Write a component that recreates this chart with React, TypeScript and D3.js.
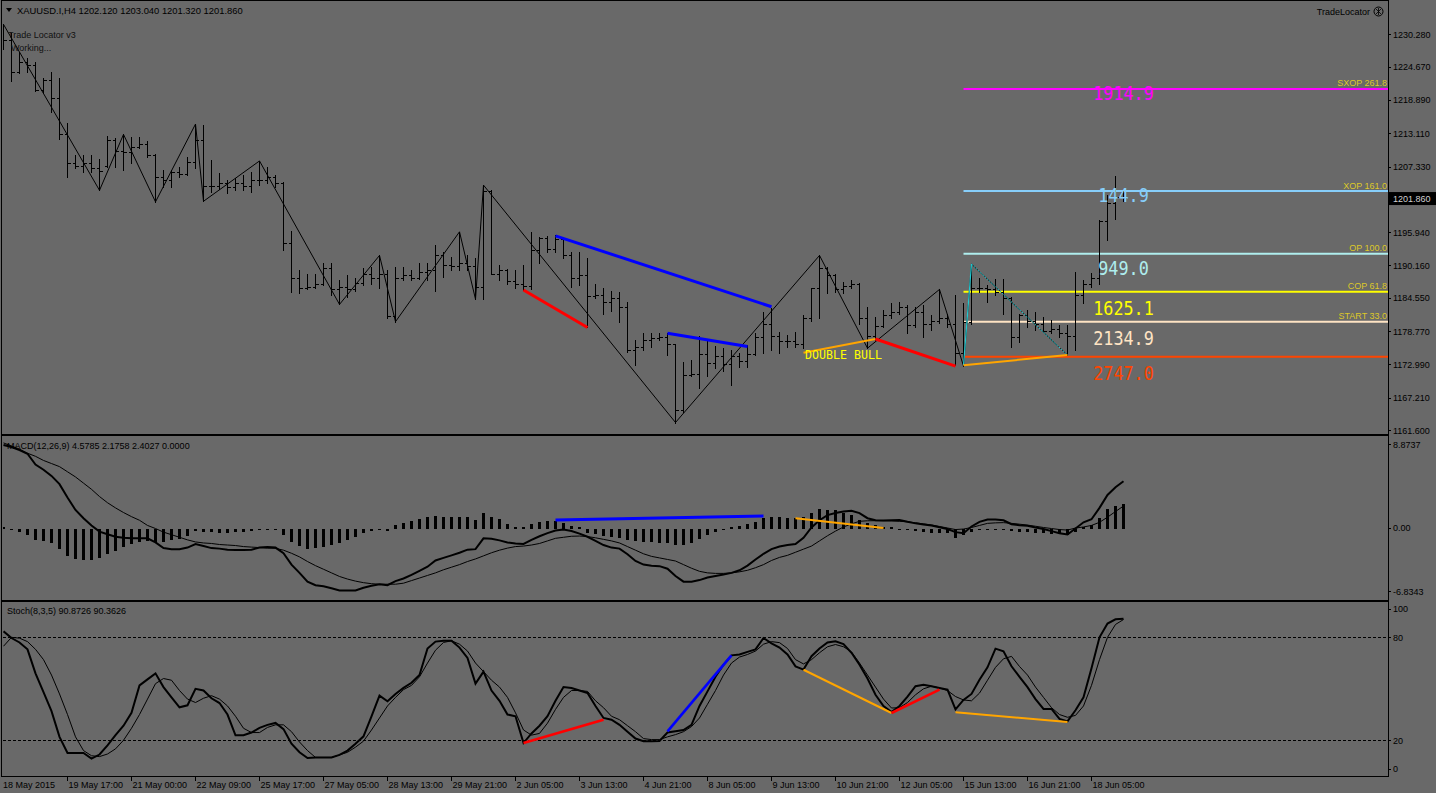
import React from 'react';
import * as d3 from 'd3';

// ---------- DATA ----------
const opens = [1231.0,1229.3,1223.7,1225.5,1224.9,1220.6,1222.3,1219.3,1213.0,1208.0,1207.5,1208.0,1207.0,1207.5,1212.0,1210.0,1209.8,1210.8,1211.2,1209.3,1205.5,1205.0,1206.3,1206.0,1208.2,1212.0,1204.0,1204.0,1204.5,1203.8,1204.5,1204.0,1205.0,1205.0,1205.5,1204.5,1194.0,1188.0,1186.2,1186.5,1187.0,1189.8,1186.0,1186.4,1186.0,1187.2,1188.6,1188.0,1188.6,1181.3,1188.0,1188.5,1188.0,1189.0,1189.3,1191.9,1190.2,1190.0,1190.6,1190.0,1186.5,1203.0,1188.7,1189.3,1187.5,1187.0,1186.6,1192.8,1195.0,1193.0,1194.7,1192.0,1188.0,1188.5,1184.8,1185.0,1183.8,1184.5,1183.0,1175.5,1176.0,1177.3,1177.5,1177.8,1176.5,1165.0,1171.2,1171.4,1174.8,1173.2,1174.5,1173.0,1174.5,1173.5,1174.8,1177.7,1180.0,1178.0,1177.0,1177.0,1176.5,1181.0,1186.2,1189.7,1188.5,1186.0,1186.6,1187.0,1181.0,1178.0,1179.6,1181.5,1182.0,1183.0,1179.8,1182.0,1180.0,1180.5,1181.0,1180.0,1175.0,1180.3,1186.3,1186.3,1186.0,1185.5,1184.5,1177.7,1181.5,1180.5,1180.0,1178.8,1179.2,1178.5,1178.0,1185.0,1187.0,1188.0,1197.8,1201.0,1202.12];
const highs = [1232.0,1230.5,1227.2,1226.2,1225.5,1222.7,1223.7,1222.7,1214.9,1209.3,1209.3,1209.3,1208.6,1212.6,1212.3,1212.9,1212.4,1212.4,1211.7,1209.5,1206.7,1206.7,1207.2,1209.0,1214.7,1214.5,1208.4,1206.2,1205.0,1205.3,1205.9,1206.4,1208.3,1207.2,1205.9,1204.7,1196.1,1189.4,1188.7,1188.7,1190.6,1190.6,1187.7,1188.5,1187.9,1189.7,1189.9,1191.9,1189.3,1189.9,1189.9,1189.3,1190.6,1190.6,1193.7,1192.5,1191.6,1196.0,1191.9,1191.4,1204.1,1203.2,1190.2,1189.5,1189.3,1190.2,1196.0,1195.1,1195.2,1195.4,1194.9,1192.5,1192.5,1191.4,1187.0,1186.2,1185.8,1185.5,1183.8,1177.2,1178.4,1178.4,1178.4,1178.4,1176.6,1173.4,1173.8,1177.9,1177.1,1176.2,1175.8,1175.5,1175.0,1176.3,1178.4,1182.0,1182.8,1178.6,1178.1,1178.6,1181.5,1186.3,1191.9,1189.9,1188.7,1187.3,1187.7,1187.1,1182.9,1181.2,1182.4,1183.6,1183.8,1183.3,1182.9,1183.3,1181.5,1186.0,1181.8,1185.0,1183.6,1190.4,1188.0,1186.8,1187.8,1187.8,1184.6,1181.8,1182.4,1182.0,1181.2,1180.7,1179.8,1179.8,1189.0,1187.6,1188.8,1198.0,1202.4,1205.6,1203.04];
const lows = [1227.7,1222.2,1223.5,1223.7,1220.4,1220.1,1216.8,1212.1,1205.5,1207.0,1206.4,1206.4,1203.2,1207.3,1207.3,1206.7,1208.0,1210.6,1209.0,1201.2,1203.8,1203.8,1205.5,1205.9,1207.0,1201.3,1202.9,1203.5,1202.7,1203.3,1203.3,1202.9,1204.1,1204.5,1203.8,1192.8,1185.6,1185.4,1186.0,1186.3,1186.8,1185.0,1183.4,1184.7,1185.8,1186.8,1187.0,1186.3,1181.0,1180.4,1187.6,1187.6,1187.8,1187.6,1185.7,1188.2,1189.4,1189.4,1189.4,1184.3,1184.3,1188.6,1187.6,1187.0,1186.2,1185.9,1186.0,1190.6,1192.5,1192.5,1191.4,1186.4,1186.8,1179.5,1184.5,1181.8,1182.2,1180.3,1175.1,1172.9,1175.5,1176.0,1177.2,1174.6,1162.9,1164.8,1171.0,1168.9,1170.9,1172.4,1171.9,1169.4,1172.6,1172.6,1174.6,1175.0,1175.5,1175.0,1176.0,1176.0,1175.8,1180.6,1181.1,1185.4,1185.6,1185.4,1186.3,1180.0,1175.8,1177.2,1179.4,1181.1,1181.8,1178.4,1179.5,1177.8,1179.0,1180.2,1179.5,1172.9,1172.7,1180.0,1185.5,1183.8,1185.0,1181.8,1176.0,1176.9,1179.5,1178.9,1178.6,1178.4,1177.7,1174.6,1175.5,1183.6,1186.4,1187.0,1194.6,1198.2,1201.32];
const closes = [1229.3,1223.7,1225.5,1224.9,1220.6,1222.3,1219.3,1213.0,1208.0,1207.5,1208.0,1207.0,1206.6,1212.0,1210.0,1209.8,1210.8,1211.2,1209.3,1205.5,1205.0,1206.3,1206.0,1208.2,1212.0,1204.0,1204.0,1204.5,1203.8,1204.5,1204.0,1205.0,1205.0,1205.5,1204.5,1194.0,1188.0,1186.2,1186.5,1187.0,1189.8,1186.0,1186.4,1186.0,1187.2,1188.6,1188.0,1188.6,1181.3,1188.0,1188.5,1188.0,1189.0,1189.3,1191.9,1190.2,1190.0,1190.6,1190.0,1186.5,1203.0,1188.7,1189.3,1187.5,1187.0,1186.6,1192.8,1195.0,1193.0,1194.7,1192.0,1188.0,1188.5,1184.8,1185.0,1183.8,1184.5,1183.0,1175.5,1176.0,1177.3,1177.5,1177.8,1176.5,1165.0,1171.2,1171.4,1174.8,1173.2,1174.5,1173.0,1174.5,1173.5,1174.8,1177.7,1180.0,1178.0,1177.0,1177.0,1176.5,1181.0,1186.2,1189.7,1188.5,1186.0,1186.6,1187.0,1181.0,1178.0,1179.6,1181.5,1182.0,1183.0,1179.8,1182.0,1180.0,1180.5,1181.0,1180.0,1175.0,1180.3,1186.3,1186.3,1186.0,1185.5,1184.5,1177.7,1181.5,1180.5,1180.0,1178.8,1179.2,1178.5,1178.0,1185.0,1187.0,1188.0,1197.8,1201.0,1202.1,1201.86];

// zigzag vertices [bar index, price]
const zigzag = [[0,1232.0],[12,1203.2],[15,1212.9],[19,1201.2],[24,1214.7],[25,1201.3],[32,1208.3],[42,1183.4],[47,1191.9],[49,1180.4],[57,1196.0],[59,1184.3],[60,1204.1],[84,1162.9],[102,1191.9],[108,1175.8],[117,1186.0],[120,1172.7],[121,1190.4],[133,1174.6]];

// pattern segments on price panel [i1, p1, i2, p2]
const priceSegments = [[65,1185.9,73,1179.4],[69,1195.3,96,1183.0],[83,1178.4,93,1176.1],[100,1175.0,109,1177.4],[109,1177.4,119,1172.7],[120,1172.85,133,1174.6]];
const priceSegmentKinds = ['red','blue','blue','orange','red','orange'];
const cyanLeg = [[120,1172.85],[121,1190.4]];
const cyanDotted = [[121,1190.4],[133,1174.6]];
const patternLabel = 'DOUBLE BULL';
const patternLabelAt = [100.2, 1174.0];

// projection levels
const fibStartBar = 120;
const fibNames = ['SXOP 261.8','XOP 161.0','OP 100.0','COP 61.8','START 33.0',''];
const fibPrices = [1220.79,1203.08,1192.2,1185.6,1180.4,1174.32];
const fibValues = ['1914.9','144.9','949.0','1625.1','2134.9','2747.0'];
const fibValuePrices = [1218.88,1201.23,1188.5,1181.56,1176.35,1170.28];

const priceTicks = [1230.28,1224.67,1218.89,1213.11,1207.33,1195.94,1190.16,1184.55,1178.77,1172.99,1167.21,1161.6];
const bidPrice = 1201.86;

const macdMain = [8.1,7.9,7.6,7.25,6.2,5.7,5.1,4.3,3.0,1.8,1.0,0.3,-0.3,-0.55,-0.8,-0.9,-0.95,-0.95,-0.95,-1.35,-1.9,-2.0,-2.0,-1.85,-1.5,-1.7,-1.9,-1.95,-2.05,-2.08,-2.08,-2.05,-1.85,-1.8,-1.85,-2.4,-3.5,-4.3,-5.15,-5.5,-5.6,-5.8,-6.0,-6.0,-6.0,-5.75,-5.55,-5.4,-5.5,-5.1,-4.85,-4.5,-4.1,-3.7,-3.1,-2.85,-2.6,-2.35,-2.05,-2.0,-0.95,-1.0,-1.15,-1.35,-1.45,-1.5,-1.1,-0.75,-0.45,-0.2,-0.1,-0.25,-0.5,-0.8,-1.2,-1.6,-1.85,-1.95,-2.5,-3.15,-3.5,-3.6,-3.65,-3.9,-4.6,-5.15,-5.15,-5.0,-4.75,-4.6,-4.45,-4.3,-4.05,-3.6,-3.0,-2.45,-2.0,-1.75,-1.6,-1.5,-0.9,0.1,0.8,1.3,1.5,1.65,1.72,1.5,1.0,0.8,0.78,0.8,0.82,0.65,0.5,0.4,0.3,0.12,-0.05,-0.35,-0.45,0.2,0.65,0.88,0.88,0.8,0.42,0.32,0.27,0.1,-0.05,-0.25,-0.45,-0.58,0.0,0.6,0.9,2.0,3.25,4.0,4.58];
const macdSignal = [8.3,8.0,7.7,7.3,7.0,6.6,6.3,6.0,5.5,5.0,4.4,3.8,3.1,2.5,2.0,1.55,1.15,0.8,0.3,0.0,-0.35,-0.6,-0.85,-1.1,-1.3,-1.4,-1.45,-1.55,-1.6,-1.65,-1.75,-1.8,-1.85,-1.9,-1.92,-2.1,-2.4,-2.75,-3.2,-3.6,-3.95,-4.3,-4.65,-4.9,-5.1,-5.25,-5.35,-5.4,-5.4,-5.4,-5.3,-5.05,-4.8,-4.55,-4.3,-4.0,-3.75,-3.5,-3.2,-2.95,-2.65,-2.35,-2.1,-1.9,-1.75,-1.7,-1.6,-1.45,-1.2,-0.95,-0.85,-0.75,-0.73,-0.78,-0.9,-1.05,-1.2,-1.4,-1.75,-2.1,-2.45,-2.7,-2.85,-3.0,-3.15,-3.5,-3.85,-4.15,-4.3,-4.35,-4.35,-4.3,-4.2,-4.05,-3.8,-3.5,-3.1,-2.8,-2.6,-2.3,-2.0,-1.7,-1.2,-0.7,-0.25,0.15,0.45,0.7,0.75,0.76,0.76,0.74,0.7,0.65,0.55,0.45,0.35,0.2,0.05,-0.1,-0.05,0.1,0.3,0.5,0.55,0.57,0.5,0.42,0.33,0.22,0.1,0.0,-0.1,-0.15,0.05,0.15,0.3,0.6,1.1,1.65,2.18];
const macdHist = [0.05,-0.1,-0.3,-0.65,-1.07,-1.2,-1.45,-2.0,-2.7,-3.0,-3.1,-3.05,-2.9,-2.5,-2.15,-1.8,-1.5,-1.3,-1.2,-1.3,-1.3,-1.1,-0.97,-0.75,-0.2,-0.3,-0.35,-0.4,-0.4,-0.35,-0.3,-0.25,-0.15,-0.1,-0.05,-0.65,-1.3,-1.7,-1.95,-1.85,-1.8,-1.6,-1.45,-1.1,-0.8,-0.4,-0.2,-0.1,-0.2,0.3,0.5,0.75,0.97,1.07,1.2,1.15,1.15,1.13,1.07,0.8,1.55,1.15,0.9,0.4,0.15,0.15,0.4,0.6,0.7,0.75,0.5,0.25,0.1,-0.4,-0.55,-0.7,-0.85,-0.95,-1.1,-1.2,-1.3,-1.35,-1.4,-1.45,-1.55,-1.55,-1.4,-1.0,-0.6,-0.3,-0.1,0.05,0.2,0.4,0.65,1.0,1.1,1.1,1.05,1.0,1.1,1.5,1.85,1.8,1.75,1.55,1.3,0.8,0.5,0.3,0.15,0.05,-0.05,-0.15,-0.25,-0.3,-0.4,-0.4,-0.45,-0.9,-0.6,-0.3,-0.15,-0.05,-0.05,-0.1,-0.2,-0.3,-0.35,-0.4,-0.45,-0.5,-0.55,-0.6,-0.3,0.0,0.3,1.0,1.85,2.2,2.4];
const macdSegments = [[69,0.82,95,1.21],[99,1.0,110,0.05]];
const macdSegmentKinds = ['blue','orange'];
const macdTicks = [8.8737,0,-6.8343];
const macdTickLabels = ['8.8737','0.00','-6.8343'];

const stochK = [83.5,79.6,77,73,59,48,37,22,12.6,12.6,12.6,9.3,11.7,17,23,28.5,36,52,55.5,59,51,45,39.2,40.4,50,49,44.5,41.7,35,22.9,22.9,24.5,27.2,29,30.1,26.5,18,13,9.7,10,10,10,11.5,14,18,22.3,34,46,42.7,47,50.5,53.5,58,73.5,77.5,78,78,74,68,53,60,49,43,35,34,18.4,24,28.5,34,43,51,50.5,49,47.6,40,33,32,29,25,21,19.5,19.4,19.6,24.5,25.2,26,29,40,48.5,57,64,69.5,70,71.5,73,79.6,76.5,74,70,63.1,61.2,69,73.5,77,77.7,76,71,64,56,46.5,40,36.5,40,45.5,51.5,52.4,51.5,50.5,49.5,38,43.5,47,55.3,62.5,73.4,71.8,63.1,57,51,44,38.3,38.3,32.5,31,37.5,45,62,80,88,90.5,90.87];
const stochD = [74.8,80,79.5,77.5,73,67,58,47,35,22,14,11,10.5,12,15,20,27,35,44,53,56,55,49,44,42,44.5,46,44,40,34,27,24.5,24.5,27.5,29,29,25,19,14,10,10,10,11.5,13,16,19.5,26,33,40,45,49.5,52,57,65,72.5,77,78,76,72,65,60,55,51,45,36,26,23,24,30,38,45,49,49,48.5,43,39,34,32,28.5,25,21,20.4,20.4,22,23.3,25,28,33,41,49,58,65,68.5,70,72,76,77.5,76.9,73.5,67,64.5,67,71,74.5,75.8,74.5,71.5,65,58,51,44,38.8,39,42,46.5,50,51.5,50.5,49,45.5,43.5,43,47.5,55,62.5,67.5,68.9,63,58,51,45,39,35,33.4,34.5,40,52,67,80,87.5,90.36];
const stochSegments = [[65,18.4,75,32],[83,25.2,91,69.5],[100,61.1,111,35.9],[111,35.9,117,49.5],[119,36.3,133,30.6]];
const stochSegmentKinds = ['red','blue','orange','red','orange'];
const stochLevels = [80,20];
const stochTickVals = [100,80,20,0];

const timeLabels = ['18 May 2015','19 May 17:00','21 May 00:00','22 May 09:00','25 May 17:00','27 May 05:00','28 May 13:00','29 May 21:00','2 Jun 05:00','3 Jun 13:00','4 Jun 21:00','8 Jun 05:00','9 Jun 13:00','10 Jun 21:00','12 Jun 05:00','15 Jun 13:00','16 Jun 21:00','18 Jun 05:00'];
const timeLabelStep = 8;

const headerText = 'XAUUSD.I,H4  1202.120 1203.040 1201.320 1201.860';
const macdTitle = 'MACD(12,26,9) 4.5785 2.1758 2.4027 0.0000';
const stochTitle = 'Stoch(8,3,5) 90.8726 90.3626';

// ---------- STYLE ----------
const BG = '#696969';
const FONT = '"Liberation Sans", Arial, sans-serif';
const MONO = '"DejaVu Sans Mono", monospace';
const kindColor: Record<string, string> = { red: '#ff0000', blue: '#0000ff', orange: '#ffa500' };
const fibColors = ['#ff00ff', '#87cefa', '#afeeee', '#ffff00', '#ffe4c4', '#ff4500'];
const PLOT_R = 1388;

export default function App() {
  const n = closes.length;
  const x = d3.scaleLinear().domain([0, n - 1]).range([3.5, 3.5 + 8 * (n - 1)]);
  const yP = d3.scaleLinear().domain([1161.6, 1230.28]).range([430, 34.3]);
  const yM = d3.scaleLinear().domain([-6.8343, 8.8737]).range([599, 437]);
  const yS = d3.scaleLinear().domain([0, 100]).range([774.6, 603]);
  const r = (v: number) => Math.round(v) + 0.5;

  const zz = d3.line<number[]>().x(d => x(d[0])).y(d => yP(d[1]))(zigzag) || '';
  const macdLine = d3.line<number>().x((_, i) => x(i)).y(d => yM(d));
  const stochLine = d3.line<number>().x((_, i) => x(i)).y(d => yS(d));
  const cyanSolid = d3.line<number[]>().x(d => x(d[0])).y(d => yP(d[1]))(cyanLeg) || '';
  const cyanDot = d3.line<number[]>().x(d => x(d[0])).y(d => yP(d[1]))(cyanDotted) || '';

  return (
    <div style={{ position: 'fixed', left: 0, top: 0, width: 1436, height: 793, background: BG }}>
      <svg width={1436} height={793} style={{ display: 'block' }} fontFamily={FONT}>
        <defs>
          <clipPath id="cMain"><rect x={3} y={2} width={PLOT_R - 3} height={432} /></clipPath>
          <clipPath id="cMacd"><rect x={3} y={437} width={PLOT_R - 3} height={162} /></clipPath>
          <clipPath id="cStoch"><rect x={3} y={602} width={PLOT_R - 3} height={173} /></clipPath>
        </defs>
        <rect x={0} y={0} width={1436} height={793} fill={BG} />

        {/* panel frames */}
        <g fill="none" stroke="#000" strokeWidth={1} shapeRendering="crispEdges">
          <rect x={1.5} y={0.5} width={PLOT_R - 1.5} height={433.5} />
          <rect x={1.5} y={435.5} width={PLOT_R - 1.5} height={164.5} />
          <rect x={1.5} y={601.5} width={PLOT_R - 1.5} height={174.5} />
        </g>

        {/* ===== MAIN PANEL ===== */}
        <g clipPath="url(#cMain)">
          {/* fib lines */}
          {fibPrices.map((p, k) => (
            <line key={'fl' + k} x1={x(fibStartBar)} x2={PLOT_R} y1={yP(p)} y2={yP(p)} stroke={fibColors[k]} strokeWidth={2} />
          ))}
          {/* bars */}
          <g stroke="#000" strokeWidth={1} shapeRendering="crispEdges">
            {closes.map((c, i) => {
              const cx = x(i);
              return (
                <g key={'b' + i}>
                  <line x1={cx} x2={cx} y1={Math.round(yP(highs[i]))} y2={Math.round(yP(lows[i])) + 1} />
                  <line x1={cx - 3} x2={cx} y1={r(yP(opens[i]))} y2={r(yP(opens[i]))} />
                  <line x1={cx} x2={cx + 3.5} y1={r(yP(c))} y2={r(yP(c))} />
                </g>
              );
            })}
          </g>
          <path d={zz} fill="none" stroke="#000" strokeWidth={1} />
          <path d={cyanSolid} fill="none" stroke="#20c8d0" strokeWidth={1.2} />
          <path d={cyanDot} fill="none" stroke="#20c8d0" strokeWidth={1} strokeDasharray="2 1" />
          {priceSegments.map((s, k) => (
            <line key={'ps' + k} x1={x(s[0])} y1={yP(s[1])} x2={x(s[2])} y2={yP(s[3])}
              stroke={kindColor[priceSegmentKinds[k]]} strokeWidth={kindColor[priceSegmentKinds[k]] === '#0000ff' ? 3 : (priceSegmentKinds[k] === 'red' ? 3 : 2)} />
          ))}
          <text x={x(patternLabelAt[0])} y={yP(patternLabelAt[1])} fill="#ffff00" fontFamily={MONO} fontSize={11.6}>{patternLabel}</text>
          {fibValues.map((t, k) => (
            <g key={'fv' + k} transform={`translate(${x(fibStartBar) + 160},${yP(fibValuePrices[k])}) scale(1,1.2)`}>
              <text x={0} y={0} textAnchor="middle" fill={fibColors[k]} fontFamily={MONO} fontSize={16.8}>{t}</text>
            </g>
          ))}
          {fibNames.map((t, k) => t ? (
            <text key={'fn' + k} x={PLOT_R - 1} y={yP(fibPrices[k]) - 2.5} textAnchor="end" fill="#dcc828" fontSize={9}>{t}</text>
          ) : null)}
        </g>

        {/* header texts */}
        <path d="M6,8 L12,8 L9,12 Z" fill="#000" />
        <text x={17} y={14} fontSize={9.4} fill="#000">{headerText}</text>
        <text x={8} y={38} fontSize={9} fill="#111">Trade Locator v3</text>
        <text x={11} y={51} fontSize={9} fill="#111">Working...</text>
        <text x={1370} y={15} fontSize={9} fill="#000" textAnchor="end">TradeLocator</text>
        <circle cx={1378.5} cy={11.5} r={4.5} fill="none" stroke="#000" strokeWidth={1} />
        <path d="M1376,9 L1381,14 M1381,9 L1376,14 M1378.5,8 L1378.5,15" stroke="#000" strokeWidth={0.8} />

        {/* main right axis */}
        <g fontSize={9} fill="#000">
          {priceTicks.map((p, k) => (
            <g key={'pt' + k}>
              <line x1={PLOT_R} x2={PLOT_R + 3} y1={r(yP(p))} y2={r(yP(p))} stroke="#000" />
              <text x={PLOT_R + 5} y={yP(p) + 3.5}>{p.toFixed(3)}</text>
            </g>
          ))}
        </g>
        <rect x={PLOT_R + 1} y={yP(bidPrice) - 6} width={1436 - PLOT_R - 1} height={13} fill="#000" />
        <text x={PLOT_R + 5} y={yP(bidPrice) + 4} fontSize={9} fill="#d0d0d0">{bidPrice.toFixed(3)}</text>

        {/* ===== MACD PANEL ===== */}
        <g clipPath="url(#cMacd)">
          <g fill="#000" shapeRendering="crispEdges">
            {macdHist.map((v, i) => {
              const y0 = yM(0), y1 = yM(v);
              const top = Math.min(y0, y1), h = Math.max(1.5, Math.abs(y1 - y0));
              return <rect key={'h' + i} x={x(i) - 1.5} y={v >= 0 ? y0 - h : y0} width={3} height={h} />;
            })}
          </g>
          <path d={macdLine(macdSignal) || ''} fill="none" stroke="#000" strokeWidth={1} />
          <path d={macdLine(macdMain) || ''} fill="none" stroke="#000" strokeWidth={2} />
          {macdSegments.map((s, k) => (
            <line key={'ms' + k} x1={x(s[0])} y1={yM(s[1])} x2={x(s[2])} y2={yM(s[3])}
              stroke={kindColor[macdSegmentKinds[k]]} strokeWidth={macdSegmentKinds[k] === 'blue' ? 3 : 2} />
          ))}
        </g>
        <text x={7} y={449} fontSize={9} fill="#000">{macdTitle}</text>
        <g fontSize={9} fill="#000">
          {macdTicks.map((v, k) => {
            const yy = k === 0 ? yM(v) + 7 : k === 2 ? yM(v) - 8 : yM(v) - 1;
            return (
              <g key={'mt' + k}>
                <line x1={PLOT_R} x2={PLOT_R + 3} y1={r(yy)} y2={r(yy)} stroke="#000" />
                <text x={PLOT_R + 5} y={yy + 3.5}>{macdTickLabels[k]}</text>
              </g>
            );
          })}
        </g>

        {/* ===== STOCH PANEL ===== */}
        <g clipPath="url(#cStoch)">
          {stochLevels.map((l, k) => (
            <line key={'sl' + k} x1={3} x2={PLOT_R} y1={r(yS(l))} y2={r(yS(l))} stroke="#000" strokeWidth={1} strokeDasharray="3 2" shapeRendering="crispEdges" />
          ))}
          <path d={stochLine(stochD) || ''} fill="none" stroke="#000" strokeWidth={1} />
          <path d={stochLine(stochK) || ''} fill="none" stroke="#000" strokeWidth={2} />
          {stochSegments.map((s, k) => (
            <line key={'ss' + k} x1={x(s[0])} y1={yS(s[1])} x2={x(s[2])} y2={yS(s[3])}
              stroke={kindColor[stochSegmentKinds[k]]} strokeWidth={stochSegmentKinds[k] === 'orange' ? 2 : 2.6} />
          ))}
        </g>
        <text x={7} y={614} fontSize={9} fill="#000">{stochTitle}</text>
        <g fontSize={9} fill="#000">
          {stochTickVals.map((v, k) => {
            const yy = v === 100 ? yS(v) + 5.7 : v === 0 ? yS(v) - 6 : yS(v);
            return (
              <g key={'st' + k}>
                <line x1={PLOT_R} x2={PLOT_R + 3} y1={r(yy)} y2={r(yy)} stroke="#000" />
                <text x={PLOT_R + 5} y={yy + 3.5}>{String(v)}</text>
              </g>
            );
          })}
        </g>

        {/* ===== TIME AXIS ===== */}
        <g fontSize={9} fill="#000">
          {timeLabels.map((t, k) => {
            const xx = x(k * timeLabelStep);
            return (
              <g key={'tl' + k}>
                {k > 0 && <line x1={xx} x2={xx} y1={776} y2={781} stroke="#000" shapeRendering="crispEdges" />}
                <text x={k === 0 ? 3 : xx + 1} y={788}>{t}</text>
              </g>
            );
          })}
        </g>
      </svg>
    </div>
  );
}
